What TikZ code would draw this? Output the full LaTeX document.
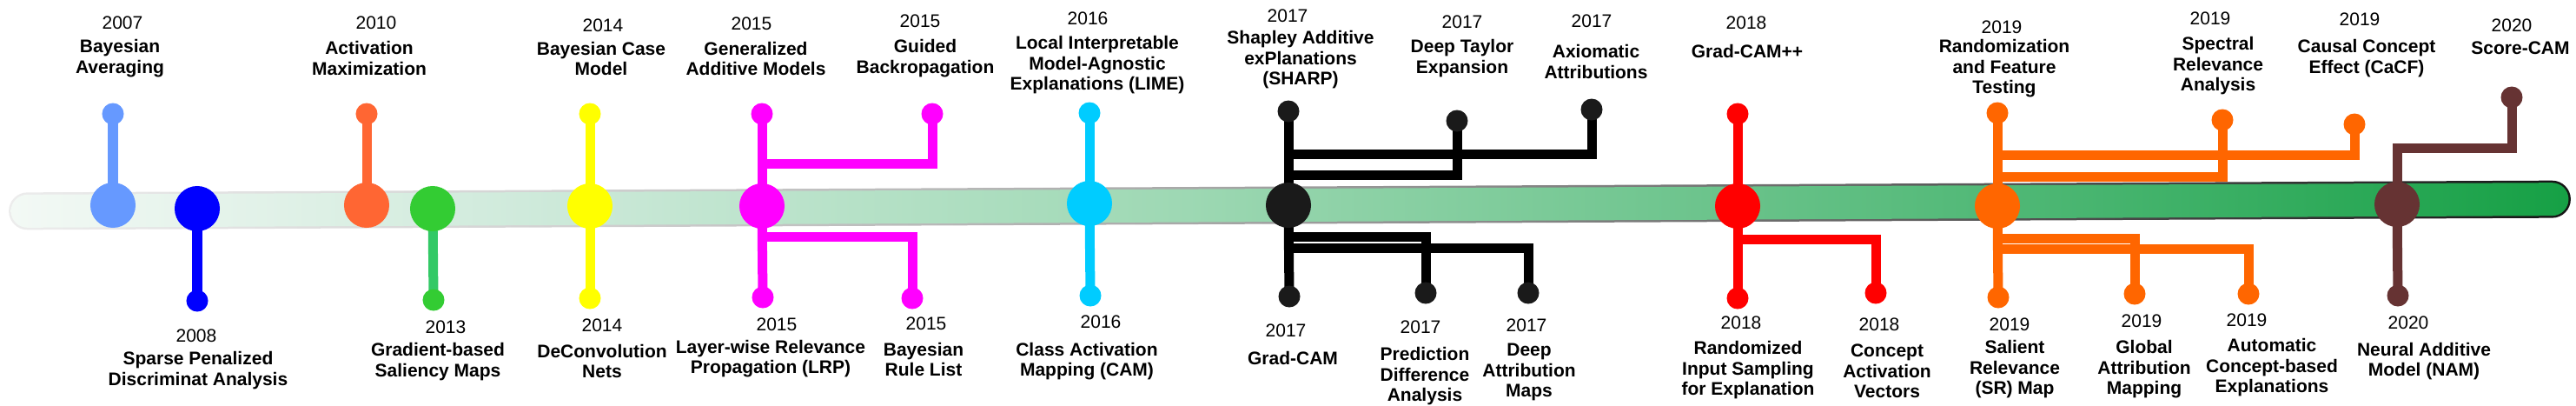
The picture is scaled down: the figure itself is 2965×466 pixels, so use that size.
\documentclass[tikz,border=0pt]{standalone}
\usepackage{fontspec}
\setmainfont{Liberation Sans}

\definecolor{cBA}{HTML}{6699FF}
\definecolor{cSP}{HTML}{0000FF}
\definecolor{cAM}{HTML}{FF6633}
\definecolor{cGS}{HTML}{33CC33}
\definecolor{cGSline}{HTML}{33C966}
\definecolor{cYe}{HTML}{FFFF00}
\definecolor{cMa}{HTML}{FF00FF}
\definecolor{cCy}{HTML}{00CCFF}
\definecolor{cBk}{HTML}{1A1A1A}
\definecolor{cRe}{HTML}{FF0000}
\definecolor{cOr}{HTML}{FF6600}
\definecolor{cBr}{HTML}{663333}

% timeline bar colours
\definecolor{barA}{HTML}{F3F9F5}
\definecolor{barB}{HTML}{CFEADB}
\definecolor{barC}{HTML}{9DD8B3}
\definecolor{barD}{HTML}{46B46E}
\definecolor{barE}{HTML}{16A045}
\definecolor{rimA}{HTML}{ECECEC}
\definecolor{rimB}{HTML}{D4D4D4}
\definecolor{rimC}{HTML}{A8A8A8}
\definecolor{rimD}{HTML}{4A4A4A}
\definecolor{rimE}{HTML}{141414}

\pgfdeclarehorizontalshading{barfill}{100bp}{color(0bp)=(barA); color(25bp)=(barA); color(35bp)=(barB); color(48bp)=(barC); color(66bp)=(barD); color(75bp)=(barE); color(100bp)=(barE)}
\pgfdeclarehorizontalshading{barrim}{100bp}{color(0bp)=(rimA); color(25bp)=(rimA); color(35bp)=(rimB); color(48bp)=(rimC); color(66bp)=(rimD); color(75bp)=(rimE); color(100bp)=(rimE)}

\newcommand\yearfont{\fontsize{5.97}{6.69}\selectfont}
\newcommand\namefont{\fontsize{5.97}{6.69}\selectfont\bfseries}

\pgfdeclarelayer{bar}
\pgfdeclarelayer{stalks}
\pgfsetlayers{bar,stalks,main}

\tikzset{
  hub/.style={circle, fill=#1, minimum size=5.2mm, inner sep=0pt},
  knob/.style={circle, fill=#1, minimum size=2.5mm, inner sep=0pt},
  stalk/.style={draw=#1, line width=1.1mm},
  yr/.style={font=\yearfont, inner sep=0pt},
  lbl/.style={font=\namefont, align=center, inner sep=0pt},
}

\begin{document}
\begin{tikzpicture}[x=0.01cm, y=-0.01cm]
  \useasboundingbox (0,0) rectangle (2965,466);

  % timeline
  \begin{pgfonlayer}{bar}
    \begin{scope}[rotate around={0.27:(1484,236)}]
      \shade[shading=barrim, rounded corners=2.15mm] (10,214.5) rectangle (2959,257.5);
      \shade[shading=barfill, rounded corners=1.9mm] (12.5,217) rectangle (2956.5,255);
    \end{scope}
  \end{pgfonlayer}

  % hubs on the timeline
  \node[hub=cBA] (h07) at (130,236) {};
  \node[hub=cSP] (h08) at (227,240) {};
  \node[hub=cAM] (h10) at (422,236) {};
  \node[hub=cGS] (h13) at (498,240) {};
  \node[hub=cYe] (h14) at (679,237) {};
  \node[hub=cMa] (h15) at (877,237) {};
  \node[hub=cCy] (h16) at (1254,234) {};
  \node[hub=cBk] (h17) at (1483,236) {};
  \node[hub=cRe] (h18) at (2000,237) {};
  \node[hub=cOr] (h19) at (2299,237) {};
  \node[hub=cBr] (h20) at (2759,235) {};

  % end dots
  \node[knob=cBA] (d-bavg) at (130,131) {};
  \node[knob=cSP] (d-spda) at (227,346) {};
  \node[knob=cAM] (d-actmax) at (422,131) {};
  \node[knob=cGS] (d-gsal) at (499,345) {};
  \node[knob=cYe] (d-bcm) at (679,131) {};
  \node[knob=cYe] (d-deconv) at (679,343) {};
  \node[knob=cMa] (d-gam) at (877,131) {};
  \node[knob=cMa] (d-lrp) at (878,342) {};
  \node[knob=cMa] (d-guided) at (1073,131) {};
  \node[knob=cMa] (d-brl) at (1050,343) {};
  \node[knob=cCy] (d-lime) at (1254,130) {};
  \node[knob=cCy] (d-cam) at (1255,340) {};
  \node[knob=cBk] (d-shap) at (1483,128) {};
  \node[knob=cBk] (d-dte) at (1677,139) {};
  \node[knob=cBk] (d-axiom) at (1832,126) {};
  \node[knob=cBk] (d-gradcam) at (1484,341) {};
  \node[knob=cBk] (d-pda) at (1641,337) {};
  \node[knob=cBk] (d-dam) at (1759,337) {};
  \node[knob=cRe] (d-gcampp) at (2000,131) {};
  \node[knob=cRe] (d-rise) at (2000,343) {};
  \node[knob=cRe] (d-tcav) at (2159,337) {};
  \node[knob=cOr] (d-rft) at (2299,130) {};
  \node[knob=cOr] (d-spray) at (2558,138) {};
  \node[knob=cOr] (d-cacf) at (2710,143) {};
  \node[knob=cOr] (d-srmap) at (2300,342) {};
  \node[knob=cOr] (d-glam) at (2457,338) {};
  \node[knob=cOr] (d-ace) at (2588,338) {};
  \node[knob=cBr] (d-scorecam) at (2891,112) {};
  \node[knob=cBr] (d-nam) at (2760,340) {};

  % branch corners
  \coordinate (k-guided) at (1073,188);
  \coordinate (k-brl) at (1050,272);
  \coordinate (k-dte) at (1677,201);
  \coordinate (k-axiom) at (1832,177);
  \coordinate (k-pda) at (1641,272);
  \coordinate (k-dam) at (1759,285);
  \coordinate (k-tcav) at (2159,275);
  \coordinate (k-spray) at (2558,203);
  \coordinate (k-cacf) at (2710,178);
  \coordinate (k-glam) at (2457,274);
  \coordinate (k-ace) at (2588,286);
  \coordinate (k-scorecam) at (2891,170);

  % stalks
  \begin{pgfonlayer}{stalks}
    \draw[stalk=cBA] (h07.center) -- (d-bavg.center);
    \draw[stalk=cSP] (h08.center) -- (d-spda.center);
    \draw[stalk=cAM] (h10.center) -- (d-actmax.center);
    \draw[stalk=cGSline] (h13.center) -- (d-gsal.center);
    \draw[stalk=cYe] (h14.center) -- (d-bcm.center);
    \draw[stalk=cYe] (h14.center) -- (d-deconv.center);
    \draw[stalk=cMa] (h15.center) -- (d-gam.center);
    \draw[stalk=cMa] (h15.center) -- (d-lrp.center);
    \draw[stalk=cMa] (h15.center) |- (k-guided) -- (d-guided.center);
    \draw[stalk=cMa] (h15.center) |- (k-brl) -- (d-brl.center);
    \draw[stalk=cCy] (h16.center) -- (d-lime.center);
    \draw[stalk=cCy] (h16.center) -- (d-cam.center);
    \draw[stalk=black] (h17.center) -- (d-shap.center);
    \draw[stalk=black] (h17.center) -- (d-gradcam.center);
    \draw[stalk=black] (h17.center) |- (k-dte) -- (d-dte.center);
    \draw[stalk=black] (h17.center) |- (k-axiom) -- (d-axiom.center);
    \draw[stalk=black] (h17.center) |- (k-pda) -- (d-pda.center);
    \draw[stalk=black] (h17.center) |- (k-dam) -- (d-dam.center);
    \draw[stalk=cRe] (h18.center) -- (d-gcampp.center);
    \draw[stalk=cRe] (h18.center) -- (d-rise.center);
    \draw[stalk=cRe] (h18.center) |- (k-tcav) -- (d-tcav.center);
    \draw[stalk=cOr] (h19.center) -- (d-rft.center);
    \draw[stalk=cOr] (h19.center) -- (d-srmap.center);
    \draw[stalk=cOr] (h19.center) |- (k-spray) -- (d-spray.center);
    \draw[stalk=cOr] (h19.center) |- (k-cacf) -- (d-cacf.center);
    \draw[stalk=cOr] (h19.center) |- (k-glam) -- (d-glam.center);
    \draw[stalk=cOr] (h19.center) |- (k-ace) -- (d-ace.center);
    \draw[stalk=cBr] (h20.center) |- (k-scorecam) -- (d-scorecam.center);
    \draw[stalk=cBr] (h20.center) -- (d-nam.center);
  \end{pgfonlayer}

  % years
  \node[yr] (y-bavg) at (141,26) {2007};
  \node[yr] (y-spda) at (226,386) {2008};
  \node[yr] (y-actmax) at (433,26) {2010};
  \node[yr] (y-gsal) at (513,376) {2013};
  \node[yr] (y-bcm) at (694,29) {2014};
  \node[yr] (y-deconv) at (693,374) {2014};
  \node[yr] (y-gam) at (865,27) {2015};
  \node[yr] (y-lrp) at (894,373) {2015};
  \node[yr] (y-guided) at (1059,24) {2015};
  \node[yr] (y-brl) at (1066,372) {2015};
  \node[yr] (y-lime) at (1252,21) {2016};
  \node[yr] (y-cam) at (1267,370) {2016};
  \node[yr] (y-shap) at (1482,18) {2017};
  \node[yr] (y-dte) at (1683,25) {2017};
  \node[yr] (y-axiom) at (1832,24) {2017};
  \node[yr] (y-gradcam) at (1480,380) {2017};
  \node[yr] (y-pda) at (1635,376) {2017};
  \node[yr] (y-dam) at (1757,374) {2017};
  \node[yr] (y-gcampp) at (2010,26) {2018};
  \node[yr] (y-rise) at (2004,371) {2018};
  \node[yr] (y-tcav) at (2163,373) {2018};
  \node[yr] (y-rft) at (2304,31) {2019};
  \node[yr] (y-spray) at (2544,21) {2019};
  \node[yr] (y-cacf) at (2716,22) {2019};
  \node[yr] (y-srmap) at (2313,373) {2019};
  \node[yr] (y-glam) at (2465,369) {2019};
  \node[yr] (y-ace) at (2586,368) {2019};
  \node[yr] (y-scorecam) at (2891,29) {2020};
  \node[yr] (y-nam) at (2772,371) {2020};

  % method names
  \node[lbl] (l-bavg) at (138,67) {Bayesian\\Averaging};
  \node[lbl] (l-spda) at (228,426) {Sparse Penalized\\Discriminat Analysis};
  \node[lbl] (l-actmax) at (425,67) {Activation\\Maximization};
  \node[lbl] (l-gsal) at (504,416) {Gradient-based\\Saliency Maps};
  \node[lbl] (l-bcm) at (692,67.5) {Bayesian Case\\Model};
  \node[lbl] (l-deconv) at (693,415.5) {DeConvolution\\Nets};
  \node[lbl] (l-gam) at (870,67.5) {Generalized\\Additive Models};
  \node[lbl] (l-lrp) at (887,412.5) {Layer-wise Relevance\\Propagation (LRP)};
  \node[lbl] (l-guided) at (1065,67) {Guided\\Backropagation};
  \node[lbl] (l-brl) at (1063,413.5) {Bayesian\\Rule List};
  \node[lbl] (l-lime) at (1263,75) {Local Interpretable\\Model-Agnostic\\Explanations (LIME)};
  \node[lbl] (l-cam) at (1251,415.5) {Class Activation\\Mapping (CAM)};
  \node[lbl] (l-shap) at (1497,69) {Shapley Additive\\exPlanations\\(SHARP)};
  \node[lbl] (l-dte) at (1683,67) {Deep Taylor\\Expansion};
  \node[lbl] (l-axiom) at (1837,71) {Axiomatic\\Attributions};
  \node[lbl] (l-gradcam) at (1488,412) {Grad-CAM};
  \node[lbl] (l-pda) at (1640,433) {Prediction\\Difference\\Analysis};
  \node[lbl] (l-dam) at (1760,428) {Deep\\Attribution\\Maps};
  \node[lbl] (l-gcampp) at (2011,59) {Grad-CAM++};
  \node[lbl] (l-rise) at (2012,426) {Randomized\\Input Sampling\\for Explanation};
  \node[lbl] (l-tcav) at (2172,427) {Concept\\Activation\\Vectors};
  \node[lbl] (l-rft) at (2307,79) {Randomization\\and Feature\\Testing};
  \node[lbl] (l-spray) at (2553,76) {Spectral\\Relevance\\Analysis};
  \node[lbl] (l-cacf) at (2724,67) {Causal Concept\\Effect (CaCF)};
  \node[lbl] (l-srmap) at (2319,425) {Salient\\Relevance\\(SR) Map};
  \node[lbl] (l-glam) at (2468,425) {Global\\Attribution\\Mapping};
  \node[lbl] (l-ace) at (2615,423) {Automatic\\Concept-based\\Explanations};
  \node[lbl] (l-scorecam) at (2901,55) {Score-CAM};
  \node[lbl] (l-nam) at (2790,415.5) {Neural Additive\\Model (NAM)};
\end{tikzpicture}
\end{document}
